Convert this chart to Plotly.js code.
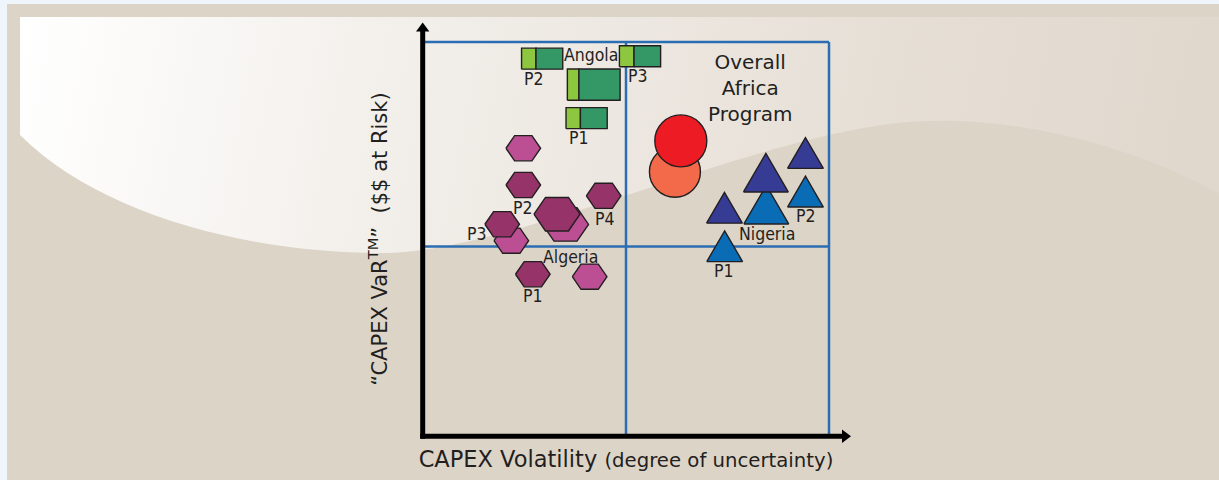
<!DOCTYPE html>
<html><head><meta charset="utf-8">
<script src="https://cdn.plot.ly/plotly-3.0.1.min.js"></script>
<style>html,body{margin:0;padding:0;background:#eef6fb;overflow:hidden}#chart{width:1219px;height:480px}</style>
</head><body><div id="chart"></div>
<script>
// ---------------- data ----------------
// Angola projects: two-tone rectangles
const angolaX = [0.587, 0.841, 0.806, 1.069];
const angolaY = [1.992, 1.855, 1.678, 2.005];
const angolaW = [1, 1.28, 1, 1];          // relative spread
const angolaH = [1, 1.49, 1, 1];          // relative depth
const angolaShare = [0.35, 0.22, 0.35, 0.355];

// Algeria projects: hexagons (two tones)
const algeriaPinkX = [0.494, 0.702, 0.435, 0.821];
const algeriaPinkY = [1.519, 1.117, 1.031, 0.841];
const algeriaPinkSize = [1, 1.33, 1, 1];
const algeriaDarkX = [0.494, 0.890, 0.660, 0.390, 0.541];
const algeriaDarkY = [1.325, 1.268, 1.171, 1.118, 0.854];
const algeriaDarkSize = [1, 1, 1.33, 1, 1];

// Nigeria projects: triangles (two tones)
const nigeriaBlueX = [1.691, 1.884, 1.486];
const nigeriaBlueY = [1.221, 1.290, 1.002];
const nigeriaBlueSize = [1.25, 1, 1];
const nigeriaNavyX = [1.884, 1.689, 1.485];
const nigeriaNavyY = [1.494, 1.390, 1.205];
const nigeriaNavySize = [1, 1.25, 1];

// Overall Africa Program: circles
const programX = [1.241, 1.270];
const programY = [1.395, 1.558];

// Text labels
const labelText = ['Angola', 'P2', 'P1', 'P3', 'P2', 'P4', 'P3', 'Algeria', 'P1', 'Nigeria', 'P2', 'P1'];
const labelX = [0.828, 0.549, 0.767, 1.059, 0.494, 0.895, 0.266, 0.728, 0.543, 1.695, 1.887, 1.483];
const labelY = [2.012, 1.885, 1.571, 1.898, 1.202, 1.146, 1.067, 0.945, 0.738, 1.064, 1.162, 0.871];
const programLabel = 'Overall<br>Africa<br>Program';
const programLabelX = 1.611, programLabelY = 1.837;

// ---------------- layout geometry ----------------
const FIG_W = 1219, FIG_H = 480;
const L = 423, T = 42, PW = 406, PH = 394;
const XR = [0, 2], YR = [0, 2.08];
const xPerPx = (XR[1] - XR[0]) / PW, yPerPx = (YR[1] - YR[0]) / PH;
const PX = x => (x - L) / PW;
const PY = y => (T + PH - y) / PH;

const OUT = '#231f20';
const labFont = {family: 'Liberation Sans Narrow, DejaVu Sans Condensed, Arial Narrow, sans-serif', size: 17.5, color: OUT};

function hexagons(xs, ys, ss) {
  const X = [], Y = [];
  xs.forEach((cx, i) => {
    const hw = 17.3 * ss[i] * xPerPx, hh = 12.6 * ss[i] * yPerPx, k = 0.5;
    X.push(cx - hw, cx - hw * k, cx + hw * k, cx + hw, cx + hw * k, cx - hw * k, cx - hw, null);
    Y.push(ys[i], ys[i] + hh, ys[i] + hh, ys[i], ys[i] - hh, ys[i] - hh, ys[i], null);
  });
  return {X, Y};
}
function triangles(xs, ys, ss) {
  const X = [], Y = [];
  xs.forEach((cx, i) => {
    const hw = 17.9 * ss[i] * xPerPx, hh = 15.4 * ss[i] * yPerPx;
    X.push(cx - hw, cx, cx + hw, cx - hw, null);
    Y.push(ys[i] - hh, ys[i] + hh, ys[i] - hh, ys[i] - hh, null);
  });
  return {X, Y};
}
function rects(part) {
  const X = [], Y = [];
  angolaX.forEach((cx, i) => {
    const hw = 20.6 * angolaW[i] * xPerPx, hh = 10.5 * angolaH[i] * yPerPx;
    const x0 = cx - hw, xm = x0 + 2 * hw * angolaShare[i], x1 = cx + hw;
    const a = part === 'light' ? x0 : xm, b = part === 'light' ? xm : x1;
    X.push(a, b, b, a, a, null);
    Y.push(angolaY[i] - hh, angolaY[i] - hh, angolaY[i] + hh, angolaY[i] + hh, angolaY[i] - hh, null);
  });
  return {X, Y};
}
function poly(g, color, name) {
  return {type: 'scatter', mode: 'lines', x: g.X, y: g.Y, fill: 'toself', fillcolor: color,
    line: {color: OUT, width: 1.4}, name: name, hoverinfo: 'name', showlegend: false};
}

const data = [
  poly(hexagons(algeriaPinkX, algeriaPinkY, algeriaPinkSize), '#bc4f93', 'Algeria'),
  poly(hexagons(algeriaDarkX, algeriaDarkY, algeriaDarkSize), '#963369', 'Algeria'),
  poly(triangles(nigeriaBlueX, nigeriaBlueY, nigeriaBlueSize), '#0a6cb4', 'Nigeria'),
  poly(triangles(nigeriaNavyX, nigeriaNavyY, nigeriaNavySize), '#363b94', 'Nigeria'),
  {type: 'scatter', mode: 'markers', x: [programX[0]], y: [programY[0]], name: 'Overall Africa Program',
   marker: {symbol: 'circle', size: 51, color: '#f26a4a', line: {color: OUT, width: 1.4}}, showlegend: false},
  {type: 'scatter', mode: 'markers', x: [programX[1]], y: [programY[1]], name: 'Overall Africa Program',
   marker: {symbol: 'circle', size: 52, color: '#ed1c24', line: {color: OUT, width: 1.4}}, showlegend: false},
  poly(rects('light'), '#8dc63f', 'Angola'),
  poly(rects('dark'), '#339866', 'Angola')
];

const annotations = labelText.map((t, i) => ({
  text: t, x: labelX[i], y: labelY[i], xref: 'x', yref: 'y', showarrow: false,
  xanchor: 'center', yanchor: 'middle', font: labFont
}));
annotations.push({text: programLabel, x: programLabelX, y: programLabelY, xref: 'x', yref: 'y',
  showarrow: false, xanchor: 'center', yanchor: 'middle', align: 'center',
  font: {family: 'DejaVu Sans, sans-serif', size: 20, color: OUT}});

const BLUE = '#2b6db2';
const shapes = [
  {type: 'line', xref: 'paper', yref: 'paper', x0: 0, x1: 1, y0: 1, y1: 1, line: {color: BLUE, width: 2.5}, layer: 'below'},
  {type: 'line', xref: 'paper', yref: 'paper', x0: 1, x1: 1, y0: 0, y1: 1, line: {color: BLUE, width: 2.5}, layer: 'below'},
  {type: 'line', xref: 'x', yref: 'paper', x0: 1, x1: 1, y0: 0, y1: 1, line: {color: BLUE, width: 2.5}, layer: 'below'},
  {type: 'line', xref: 'paper', yref: 'y', x0: 0, x1: 1, y0: 1, y1: 1, line: {color: BLUE, width: 2.5}, layer: 'below'},
  {type: 'line', xref: 'paper', yref: 'paper', x0: PX(422.7), x1: PX(422.7), y0: PY(438.8), y1: PY(30), line: {color: '#000', width: 5}},
  {type: 'path', xref: 'paper', yref: 'paper', path: `M${PX(422.7)},${PY(22.5)} L${PX(416)},${PY(31.5)} L${PX(429.4)},${PY(31.5)} Z`, fillcolor: '#000', line: {width: 0}},
  {type: 'line', xref: 'paper', yref: 'paper', x0: PX(420.2), x1: PX(843), y0: PY(436.2), y1: PY(436.2), line: {color: '#000', width: 5}},
  {type: 'path', xref: 'paper', yref: 'paper', path: `M${PX(851)},${PY(436.2)} L${PX(842)},${PY(429.5)} L${PX(842)},${PY(443)} Z`, fillcolor: '#000', line: {width: 0}}
];

// decorative background (panel with light swoosh)
const bgSvg = `<svg xmlns='http://www.w3.org/2000/svg' width='${FIG_W}' height='${FIG_H}' viewBox='0 0 ${FIG_W} ${FIG_H}'>
<defs><linearGradient id='g' gradientUnits='userSpaceOnUse' x1='20' y1='17' x2='1219' y2='260'>
<stop offset='0' stop-color='#ffffff'/><stop offset='0.35' stop-color='#f1ede8'/><stop offset='0.7' stop-color='#e6dfd6'/><stop offset='1' stop-color='#dfd7cc'/></linearGradient></defs>
<rect width='${FIG_W}' height='${FIG_H}' fill='#eef6fb'/>
<rect x='7' y='4' width='${FIG_W - 7}' height='${FIG_H - 4}' fill='#ddd4c8'/>
<path d='M20,17 H1219 V193 C1120,140 1010,118 930,121 C780,122 520,253 380,253 C250,253 100,215 20,135 Z' fill='url(#g)'/>
</svg>`;

const layout = {
  width: FIG_W, height: FIG_H, autosize: false,
  margin: {l: L, r: FIG_W - L - PW, t: T, b: FIG_H - T - PH, pad: 0},
  paper_bgcolor: '#ddd4c8', plot_bgcolor: 'rgba(0,0,0,0)',
  showlegend: false, hovermode: 'closest',
  xaxis: {range: XR, showgrid: false, zeroline: false, showticklabels: false, ticks: '', showline: false,
    fixedrange: true, automargin: false,
    title: {text: '\u00a0\u00a0CAPEX Volatility <span style="font-size:19.7px">(degree of uncertainty)</span>',
      font: {family: 'DejaVu Sans, sans-serif', size: 22.5, color: OUT}, standoff: 15}},
  yaxis: {range: YR, showgrid: false, zeroline: false, showticklabels: false, ticks: '', showline: false,
    fixedrange: true, automargin: false,
    title: {text: '\u201cCAPEX VaR<sup>TM</sup>\u201d\u00a0\u00a0($$ at Risk)',
      font: {family: 'DejaVu Sans, sans-serif', size: 21, color: OUT}, standoff: 28}},
  images: [{source: 'data:image/svg+xml;charset=utf-8,' + encodeURIComponent(bgSvg),
    xref: 'paper', yref: 'paper', x: PX(0), y: PY(0), sizex: FIG_W / PW, sizey: FIG_H / PH,
    xanchor: 'left', yanchor: 'top', sizing: 'stretch', layer: 'below'}],
  shapes: shapes,
  annotations: annotations
};

Plotly.newPlot('chart', data, layout, {displayModeBar: false, staticPlot: false});
</script></body></html>
